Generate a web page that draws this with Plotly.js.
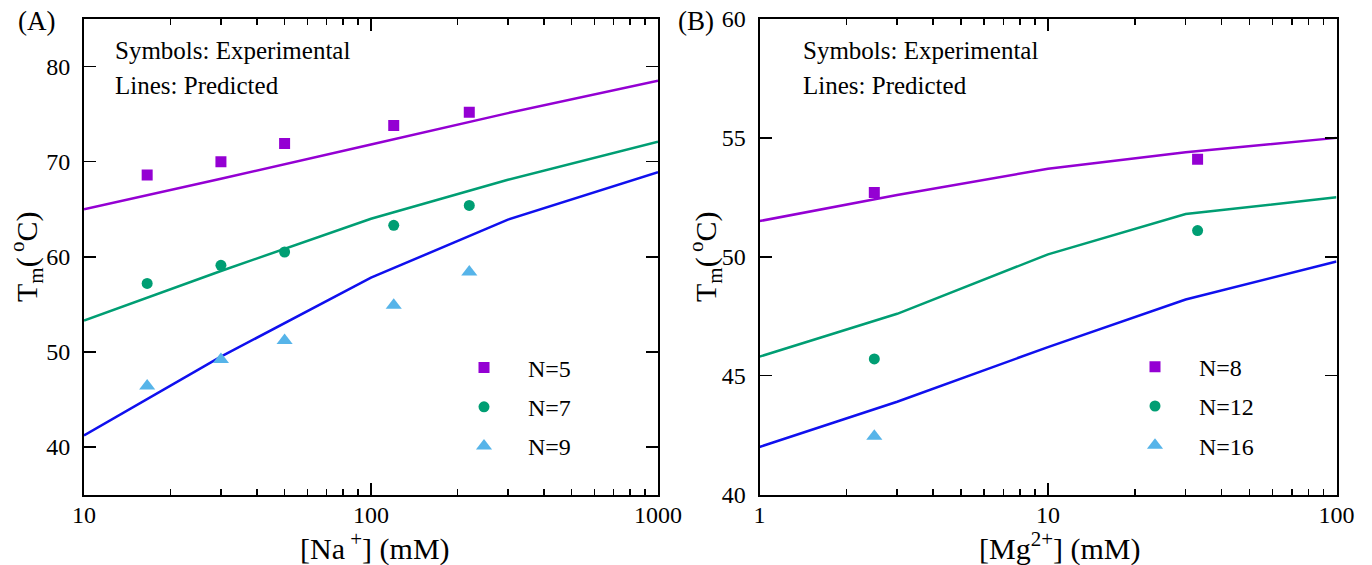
<!DOCTYPE html>
<html><head><meta charset="utf-8">
<script src="https://cdn.plot.ly/plotly-3.0.1.min.js"></script>
<style>body{margin:0;background:#fff}#chart{width:1372px;height:565px}</style>
</head><body><div id="chart"></div><script>
// ---- Panel A: Na+ dependence ----
const naConc = [16.6, 30, 50, 120, 220];
const naN5 = [68.6, 70.0, 71.9, 73.8, 75.2];
const naN7 = [57.2, 59.1, 60.5, 63.3, 65.4];
const naN9 = [46.4, 49.2, 51.2, 54.9, 58.4];
const naPredX = [10, 30, 100, 300, 1000];
const naPredN5 = [65.0, 68.2, 71.8, 75.1, 78.5];
const naPredN7 = [53.3, 58.5, 64.0, 68.1, 72.1];
const naPredN9 = [41.2, 49.5, 57.8, 63.9, 68.9];
const naTickVals = [10, 100, 1000];
const naTickText = ['10', '100', '1000'];
const naMinorVals = [20,30,40,50,60,70,80,90,200,300,400,500,600,700,800,900];
const naYTicks = [40, 50, 60, 70, 80];

// ---- Panel B: Mg2+ dependence ----
const mgConc = [2.5, 33];
const mgN8 = [52.7, 54.1];
const mgN12 = [45.7, 51.1];
const mgConcN16 = [2.5];
const mgN16 = [42.45];
const mgPredX = [1, 3, 10, 30, 100];
const mgPredN8 = [51.5, 52.6, 53.7, 54.4, 55.0];
const mgPredN12 = [45.8, 47.6, 50.1, 51.8, 52.5];
const mgPredN16 = [42.0, 43.9, 46.2, 48.2, 49.8];
const mgTickVals = [1, 10, 100];
const mgTickText = ['1', '10', '100'];
const mgMinorVals = [2,3,4,5,6,7,8,9,20,30,40,50,60,70,80,90];
const mgYTicks = [40, 45, 50, 55, 60];

const FONT = '"Liberation Serif", "Times New Roman", serif';
const PURPLE = '#9400D3', GREEN = '#009E73', BLUE = '#1010EE', SKY = '#56B4E9';
const W = 1372, H = 565;

function line(x, y, color, xa, ya) {
  return {x, y, xaxis: xa, yaxis: ya, mode: 'lines', line: {color, width: 2.5}, showlegend: false, hoverinfo: 'skip'};
}
function pts(x, y, color, symbol, size, name, xa, ya, leg) {
  return {x, y, xaxis: xa, yaxis: ya, mode: 'markers', name, legend: leg, legendgroup: name,
    marker: {color, symbol, size}, showlegend: true};
}

const traces = [
  line(naPredX, naPredN5, PURPLE, 'x', 'y'),
  line(naPredX, naPredN7, GREEN, 'x', 'y'),
  line(naPredX, naPredN9, BLUE, 'x', 'y'),
  pts(naConc, naN5, PURPLE, 'square', 11, 'N=5', 'x', 'y', 'legend'),
  pts(naConc, naN7, GREEN, 'circle', 11, 'N=7', 'x', 'y', 'legend'),
  pts(naConc, naN9, SKY, 'triangle-up', 14, 'N=9', 'x', 'y', 'legend'),
  line(mgPredX, mgPredN8, PURPLE, 'x2', 'y2'),
  line(mgPredX, mgPredN12, GREEN, 'x2', 'y2'),
  line(mgPredX, mgPredN16, BLUE, 'x2', 'y2'),
  pts(mgConc, mgN8, PURPLE, 'square', 11, 'N=8', 'x2', 'y2', 'legend2'),
  pts(mgConc, mgN12, GREEN, 'circle', 11, 'N=12', 'x2', 'y2', 'legend2'),
  pts(mgConcN16, mgN16, SKY, 'triangle-up', 14, 'N=16', 'x2', 'y2', 'legend2'),
];

function xAxis(d0, d1, range, tv, tt, mv, anchor) {
  return {type: 'log', domain: [d0 / W, d1 / W], range: range.map(Math.log10), anchor,
    tickmode: 'array', tickvals: tv, ticktext: tt,
    ticks: 'inside', ticklen: 12, tickwidth: 1.5, tickcolor: '#000',
    showline: true, linewidth: 2, linecolor: '#000', mirror: 'allticks',
    showgrid: false, zeroline: false, automargin: false, ticklabelstandoff: -2,
    tickfont: {family: FONT, size: 24, color: '#000'},
    minor: {tickmode: 'array', tickvals: mv, ticks: 'inside', ticklen: 6, tickwidth: 1.5, tickcolor: '#000', showgrid: false}};
}
function yAxis(range, tv, anchor) {
  return {domain: [1 - 494.5 / H, 1 - 19 / H], range, anchor,
    tickmode: 'array', tickvals: tv,
    ticks: 'inside', ticklen: 12, tickwidth: 1.5, tickcolor: '#000',
    showline: true, linewidth: 2, linecolor: '#000', mirror: 'allticks',
    showgrid: false, zeroline: false, automargin: false, ticklabelstandoff: 7,
    tickfont: {family: FONT, size: 24, color: '#000'}};
}

function ann(text, x, y, opts) {
  return Object.assign({text, x: x / W, y: 1 - y / H, xref: 'paper', yref: 'paper', showarrow: false,
    xanchor: 'center', yanchor: 'middle',
    font: {family: FONT, size: 25, color: '#000'}}, opts || {});
}
const TITLE_FONT = {family: FONT, size: 30, color: '#000'};

const layout = {
  width: W, height: H, margin: {l: 0, r: 0, t: 0, b: 0},
  paper_bgcolor: '#fff', plot_bgcolor: '#fff',
  font: {family: FONT, size: 24, color: '#000'},
  xaxis: xAxis(84, 658, [10, 1000], naTickVals, naTickText, naMinorVals, 'y'),
  yaxis: yAxis([35, 85], naYTicks, 'x'),
  xaxis2: xAxis(759.5, 1336.5, [1, 100], mgTickVals, mgTickText, mgMinorVals, 'y2'),
  yaxis2: yAxis([40, 60], mgYTicks, 'x2'),
  legend: {x: 440 / W, y: 1 - 345.5 / H, xanchor: 'left', yanchor: 'top', bgcolor: 'rgba(0,0,0,0)',
    itemwidth: 78, tracegroupgap: 5, font: {family: FONT, size: 24, color: '#000'}},
  legend2: {x: 1111 / W, y: 1 - 344.7 / H, xanchor: 'left', yanchor: 'top', bgcolor: 'rgba(0,0,0,0)',
    itemwidth: 78, tracegroupgap: 5, font: {family: FONT, size: 24, color: '#000'}},
  annotations: [
    ann('(A)', 36, 21, {font: {family: FONT, size: 27, color: '#000'}}),
    ann('(B)', 696, 21, {font: {family: FONT, size: 27, color: '#000'}}),
    ann('Symbols: Experimental', 113, 50, {xanchor: 'left'}),
    ann('Lines: Predicted', 113, 85, {xanchor: 'left'}),
    ann('Symbols: Experimental', 801, 50, {xanchor: 'left'}),
    ann('Lines: Predicted', 801, 85, {xanchor: 'left'}),
    ann('[Na<sup> +</sup>] (mM)', 375, 546, {font: TITLE_FONT}),
    ann('[Mg<sup>2+</sup>] (mM)', 1060, 546, {font: TITLE_FONT}),
    ann('T<sub>m</sub>(<sup> o</sup>C)', 26, 257, {textangle: -90, font: TITLE_FONT}),
    ann('T<sub>m</sub>(<sup> o</sup>C)', 705, 257, {textangle: -90, font: TITLE_FONT}),
  ],
};

Plotly.newPlot('chart', traces, layout, {staticPlot: true, displayModeBar: false});
</script></body></html>
